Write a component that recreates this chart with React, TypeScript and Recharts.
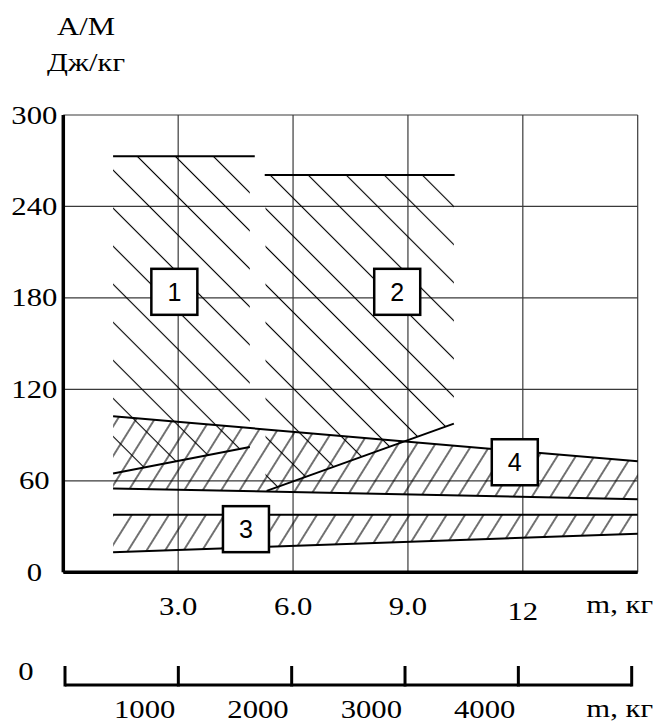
import React from 'react';
import { ComposedChart, Area, Line, Scatter, XAxis, YAxis, CartesianGrid, Label } from 'recharts';

// ---- data ----
const MASS_TICKS = [3, 6, 9, 12];
const LOAD_TICKS = [0, 60, 120, 180, 240, 300];
const KG_TICKS = [0, 1000, 2000, 3000, 4000, 5000];
const KG_LABELS = ['0', '1000', '2000', '3000', '4000', ''];

// hatched zones: [lower, upper] A/M values
const zone1 = [
  { x: 1.3, r: [64.8, 273] },
  { x: 4.87, r: [82.2, 273] },
];
const zone2 = [
  { x: 5.28, r: [53.2, 260.7] },
  { x: 10.2, r: [97.5, 260.7] },
];
const zone4 = [
  { x: 1.3, r: [55, 102.3] },
  { x: 15, r: [48, 72.8] },
];
const zone3 = [
  { x: 1.3, r: [13.1, 37.7] },
  { x: 15, r: [25.3, 37.7] },
];

// boundary lines
const line1Top = [{ x: 1.3, y: 273 }, { x: 5.0, y: 273 }];
const line1Bottom = [{ x: 1.3, y: 64.8 }, { x: 4.87, y: 82.2 }];
const line2Top = [{ x: 5.26, y: 260.7 }, { x: 10.22, y: 260.7 }];
const line2Bottom = [{ x: 5.31, y: 53.4 }, { x: 10.2, y: 97.5 }];
const line4Top = [{ x: 1.3, y: 102.3 }, { x: 15, y: 72.8 }];
const line4Bottom = [{ x: 1.3, y: 55 }, { x: 15, y: 48 }];
const line3Top = [{ x: 1.3, y: 37.7 }, { x: 15, y: 37.7 }];
const line3Bottom = [{ x: 1.3, y: 13.1 }, { x: 15, y: 25.3 }];

const zoneLabels = [
  { x: 2.9, y: 184, label: '1' },
  { x: 8.72, y: 184, label: '2' },
  { x: 4.77, y: 28.3, label: '3' },
  { x: 11.79, y: 72.2, label: '4' },
];

// the kg scale carries no marks, only its tick positions
const kgScalePoints = KG_TICKS.map((v) => ({ x: v }));

// ---- layout ----
const W = 660;
const H = 722;
const LEFT_W = 63.3;
const RIGHT_M = 22.3;
const TOP_M = 115;
const X1_H = 112.7;
const X2_H = 30;
const BOTTOM_M = 7;
const PLOT_W = W - LEFT_W - RIGHT_M;
const KG_DOMAIN: [number, number] = [-15, 5053];
const KG_STEP_PX = (PLOT_W * 1000) / (KG_DOMAIN[1] - KG_DOMAIN[0]);

const SERIF = '"Liberation Serif", "Times New Roman", serif';
const SANS = '"Liberation Sans", Arial, sans-serif';
const FS = 26;
const SX = 'scale(1.18,1)';

const SerifText = ({ x, y, anchor = 'middle', children }: any) => (
  <text
    transform={`translate(${x},${y}) ${SX}`}
    textAnchor={anchor}
    fontFamily={SERIF}
    fontSize={FS}
    fill="#000"
  >
    {children}
  </text>
);

const YTick = (props: any) => {
  const { x, y, payload } = props;
  return <SerifText x={x - 29} y={y + 8.5}>{String(payload.value)}</SerifText>;
};

const MassTick = (props: any) => {
  const { x, y, payload } = props;
  const v = payload.value as number;
  const txt = v >= 10 ? String(v) : v.toFixed(1);
  const dy = v >= 10 ? 5 : 0;
  return <SerifText x={x} y={y + 43 + dy}>{txt}</SerifText>;
};

const KgTick = (props: any) => {
  const { x, y, payload, index } = props;
  const i = KG_TICKS.indexOf(payload.value);
  const lbl = KG_LABELS[i] ?? '';
  return (
    <g>
      {index > 0 && (
        <line x1={x - KG_STEP_PX} y1={y} x2={x} y2={y} stroke="#000" strokeWidth={3} />
      )}
      <line x1={x} y1={y + 1.5} x2={x} y2={y - 19} stroke="#000" strokeWidth={3} />
      {payload.value === 0 ? (
        <SerifText x={x - 39} y={y - 5}>{lbl}</SerifText>
      ) : lbl ? (
        <SerifText x={x - 3} y={y + 33} anchor="end">{lbl}</SerifText>
      ) : null}
    </g>
  );
};

const BoxShape = (props: any) => {
  const { cx, cy, payload } = props;
  return (
    <g>
      <rect x={cx - 23} y={cy - 23} width={46} height={46} fill="#fff" stroke="#000" strokeWidth={2.5} />
      <text x={cx} y={cy + 9} textAnchor="middle" fontFamily={SANS} fontSize={25} fill="#000">
        {payload.label}
      </text>
    </g>
  );
};

const LINE_STYLE = { stroke: '#000', strokeWidth: 2, dot: false, isAnimationActive: false } as const;

export default function App() {
  const boundaryLines = [line1Top, line1Bottom, line2Top, line2Bottom, line4Top, line4Bottom, line3Top, line3Bottom];
  return (
    <div style={{ position: 'absolute', left: 0, top: 0, width: W, height: H, background: '#fff' }}>
      <ComposedChart
        width={W}
        height={H}
        margin={{ top: TOP_M, right: RIGHT_M, bottom: BOTTOM_M, left: 0 }}
      >
        <defs>
          <pattern id="hatchBack" patternUnits="userSpaceOnUse" width={26.9} height={26.9} patternTransform="rotate(-45)">
            <line x1={13.45} y1={0} x2={13.45} y2={26.9} stroke="#000" strokeWidth={1.1} />
          </pattern>
          <pattern id="hatchFwd" patternUnits="userSpaceOnUse" width={15.7} height={15.7} patternTransform="rotate(32)">
            <line x1={7.85} y1={0} x2={7.85} y2={15.7} stroke="#000" strokeWidth={1.1} />
          </pattern>
        </defs>

        <CartesianGrid xAxisId="x1" yAxisId="a" stroke="#3a3a3a" strokeWidth={1.2} />

        <XAxis
          xAxisId="x1"
          type="number"
          dataKey="x"
          domain={[0, 15]}
          ticks={MASS_TICKS}
          interval={0}
          height={X1_H}
          tickLine={false}
          tickSize={0}
          tickMargin={0}
          axisLine={{ stroke: '#000', strokeWidth: 3.5 }}
          tick={<MassTick />}
        >
          <Label
            content={() => (
              <SerifText x={LEFT_W + PLOT_W - 18} y={H - BOTTOM_M - X2_H - X1_H + 41}>m, кг</SerifText>
            )}
          />
        </XAxis>
        <XAxis
          xAxisId="x2"
          type="number"
          dataKey="x"
          domain={KG_DOMAIN}
          allowDataOverflow
          ticks={KG_TICKS}
          interval={0}
          height={X2_H}
          tickLine={false}
          tickSize={0}
          tickMargin={0}
          axisLine={false}
          tick={<KgTick />}
        >
          <Label
            content={() => (
              <SerifText x={LEFT_W + PLOT_W - 18} y={H - BOTTOM_M - X2_H + 32}>m, кг</SerifText>
            )}
          />
        </XAxis>
        <XAxis
          xAxisId="x0top"
          orientation="top"
          type="number"
          dataKey="x"
          domain={[0, 15]}
          height={0}
          tick={false}
          tickLine={false}
          axisLine={{ stroke: '#000', strokeWidth: 3.5 }}
        />
        <YAxis
          yAxisId="a"
          type="number"
          domain={[0, 300]}
          ticks={LOAD_TICKS}
          interval={0}
          width={LEFT_W}
          tickLine={false}
          tickSize={0}
          tickMargin={0}
          axisLine={{ stroke: '#000', strokeWidth: 3.5 }}
          tick={<YTick />}
        >
          <Label
            content={() => (
              <g>
                <SerifText x={LEFT_W + 22.7} y={TOP_M - 80}>А/М</SerifText>
                <SerifText x={LEFT_W + 22.7} y={TOP_M - 44}>Дж/кг</SerifText>
              </g>
            )}
          />
        </YAxis>
        <YAxis
          yAxisId="right"
          orientation="right"
          type="number"
          domain={[0, 300]}
          width={0}
          tick={false}
          tickLine={false}
          axisLine={{ stroke: '#000', strokeWidth: 3.5 }}
        />

        <Area xAxisId="x1" yAxisId="a" data={zone1} dataKey="r" type="linear" stroke="none" fill="url(#hatchBack)" fillOpacity={1} isAnimationActive={false} />
        <Area xAxisId="x1" yAxisId="a" data={zone2} dataKey="r" type="linear" stroke="none" fill="url(#hatchBack)" fillOpacity={1} isAnimationActive={false} />
        <Area xAxisId="x1" yAxisId="a" data={zone4} dataKey="r" type="linear" stroke="none" fill="url(#hatchFwd)" fillOpacity={1} isAnimationActive={false} />
        <Area xAxisId="x1" yAxisId="a" data={zone3} dataKey="r" type="linear" stroke="none" fill="url(#hatchFwd)" fillOpacity={1} isAnimationActive={false} />

        {boundaryLines.map((d, i) => (
          <Line key={i} xAxisId="x1" yAxisId="a" data={d} dataKey="y" type="linear" {...LINE_STYLE} />
        ))}

        <Line xAxisId="x2" yAxisId="a" data={kgScalePoints} dataKey="y" stroke="none" dot={false} legendType="none" isAnimationActive={false} />

        <Scatter xAxisId="x1" yAxisId="a" data={zoneLabels} dataKey="y" shape={<BoxShape />} isAnimationActive={false} />
      </ComposedChart>
    </div>
  );
}
